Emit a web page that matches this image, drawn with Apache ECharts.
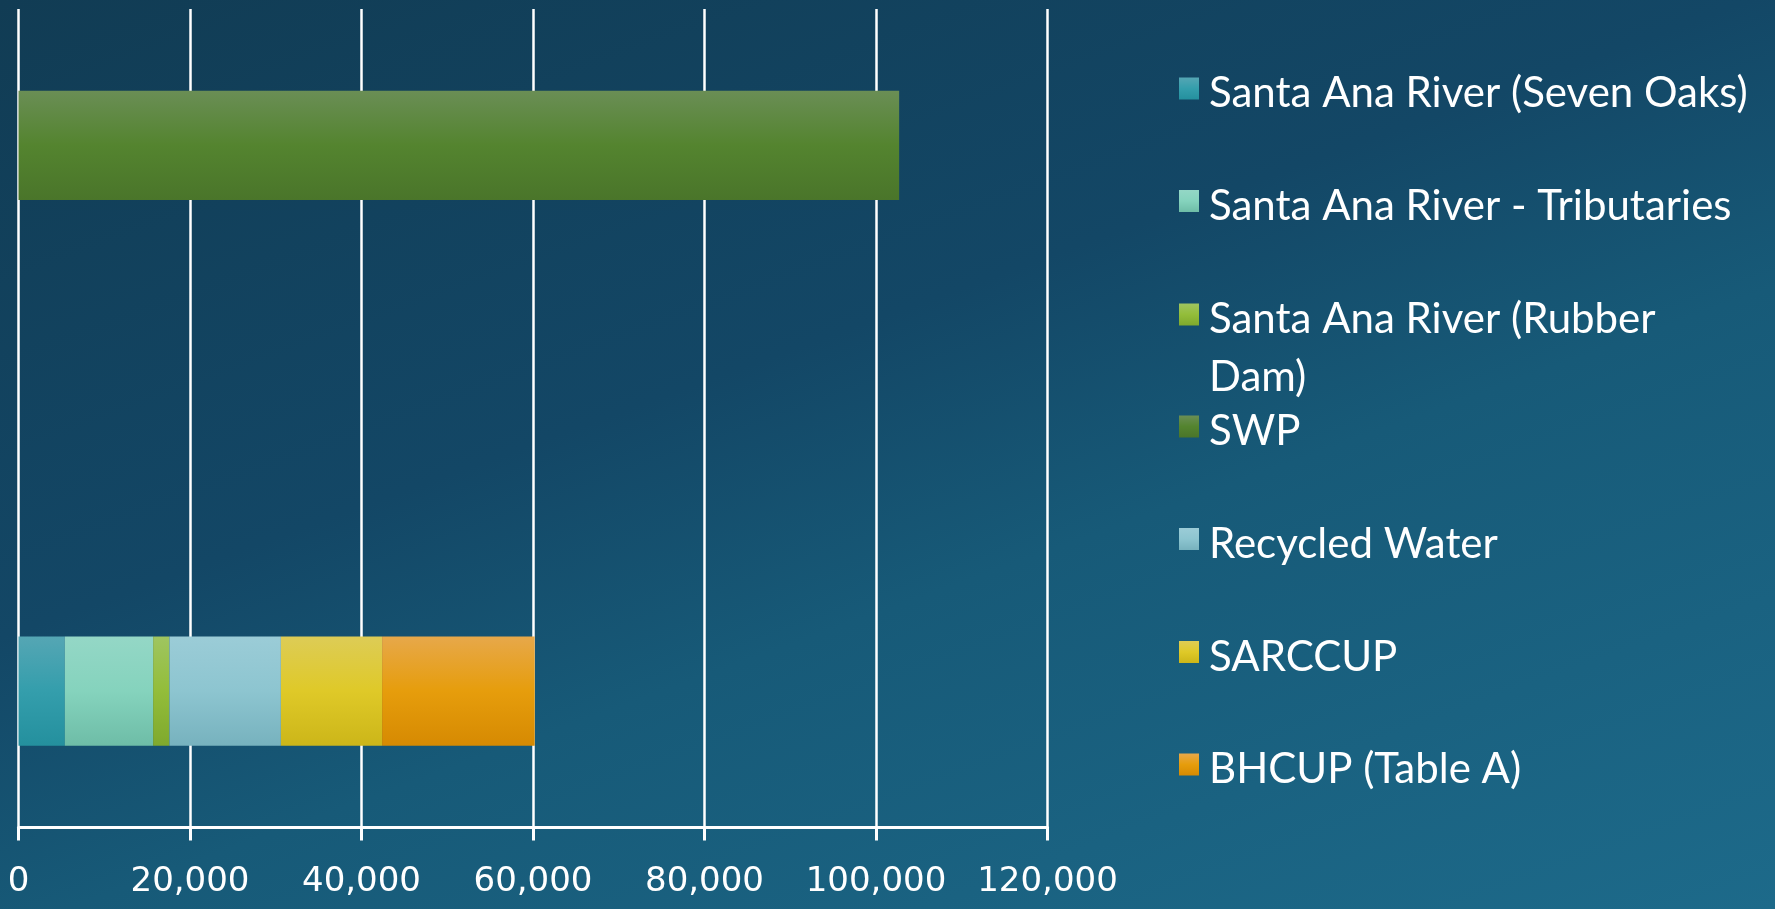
<!DOCTYPE html>
<html>
<head>
<meta charset="utf-8">
<script src="https://cdn.jsdelivr.net/npm/echarts@6/dist/echarts.min.js"></script>
<style>
html,body{margin:0;padding:0;}
#chart{width:1775px;height:909px;background:linear-gradient(160deg,#113c54 0%,#134766 41%,#175a78 60%,#1d6a8a 100%);}
</style>
</head>
<body>
<div id="chart"></div>
<script>
// ---- data ----
var categories = ['Local', ' ', 'Imported'];
var seriesNames = [
  'Santa Ana River (Seven Oaks)',
  'Santa Ana River - Tributaries',
  'Santa Ana River (Rubber Dam)',
  'SWP',
  'Recycled Water',
  'SARCCUP',
  'BHCUP (Table A)'
];
var sevenOaks   = [5400, null, null];
var tributaries = [10300, null, null];
var rubberDam   = [1900, null, null];
var swp         = [null, null, 102700];
var recycled    = [13000, null, null];
var sarccup     = [11800, null, null];
var bhcup       = [17800, null, null];
var xTicks = [0, 20000, 40000, 60000, 80000, 100000, 120000];

// ---- styling ----
var seriesValues = [sevenOaks, tributaries, rubberDam, swp, recycled, sarccup, bhcup];
var colorStops = [
  ['#55a6b4', '#349eac', '#24909e'],
  ['#94d7c6', '#85d3bd', '#6ebda7'],
  ['#9fc560', '#93bd3a', '#7fa92d'],
  ['#6a8e55', '#54842f', '#4a752a'],
  ['#9bccd7', '#8dc5d0', '#77b2be'],
  ['#ddcc56', '#dfc928', '#ccb619'],
  ['#e7a84a', '#e69d0c', '#d68a02']
];
function grad(c) {
  return new echarts.graphic.LinearGradient(0, 0, 0, 1, [
    {offset: 0, color: c[0]}, {offset: 0.5, color: c[1]}, {offset: 1, color: c[2]}
  ]);
}
var legendTops = [77.5, 190, 303, 415.5, 528, 641, 753.5];

var series = seriesNames.map(function (n, i) {
  return {
    name: n,
    type: 'bar',
    stack: 'total',
    barWidth: '40%',
    data: seriesValues[i],
    itemStyle: {color: grad(colorStops[i])}
  };
});

var legends = seriesNames.map(function (n, i) {
  var wrap = (n === 'Santa Ana River (Rubber Dam)');
  return {
    data: [n],
    orient: 'vertical',
    left: 1179,
    top: wrap ? legendTops[i] - 47 : legendTops[i] - 5,
    padding: 0,
    itemWidth: 20,
    itemHeight: 22,
    icon: 'rect',
    selectedMode: false,
    formatter: wrap
      ? function () { return '{p| }\n{t|Santa Ana River (Rubber}\n{t|Dam)}'; }
      : function (name) { return '{q| }\n{s|' + name + '}'; },
    textStyle: {
      color: '#ffffff',
      fontFamily: 'Lato',
      fontSize: 42,
      rich: {
        p: {fontSize: 1, lineHeight: 68},
        q: {fontSize: 1, lineHeight: 10},
        t: {color: '#ffffff', fontFamily: 'Lato', fontSize: 42, lineHeight: 58, padding: [0, 0, 0, 5]},
        s: {color: '#ffffff', fontFamily: 'Lato', fontSize: 42, lineHeight: 22, padding: [0, 0, 0, 5]}
      }
    }
  };
});

var chart = echarts.init(document.getElementById('chart'), null, {renderer: 'canvas'});
chart.setOption({
  animation: false,
  backgroundColor: 'transparent',
  grid: {left: 18.5, right: 727.5, top: 9, bottom: 81.5, containLabel: false},
  legend: legends,
  xAxis: {
    type: 'value',
    min: xTicks[0],
    max: xTicks[xTicks.length - 1],
    interval: xTicks[1] - xTicks[0],
    axisLine: {show: true, lineStyle: {color: '#ffffff', width: 3}},
    axisTick: {show: true, length: 13, lineStyle: {color: '#ffffff', width: 3}},
    splitLine: {show: true, lineStyle: {color: '#ffffff', width: 2.5}},
    axisLabel: {
      color: '#ffffff',
      fontFamily: 'DejaVu Sans',
      fontSize: 34,
      margin: 38,
      formatter: function (v) { return v.toLocaleString('en-US'); }
    }
  },
  yAxis: {
    type: 'category',
    data: categories,
    axisLine: {show: false},
    axisTick: {show: false},
    axisLabel: {show: false},
    splitLine: {show: false}
  },
  series: series
});
</script>
</body>
</html>
